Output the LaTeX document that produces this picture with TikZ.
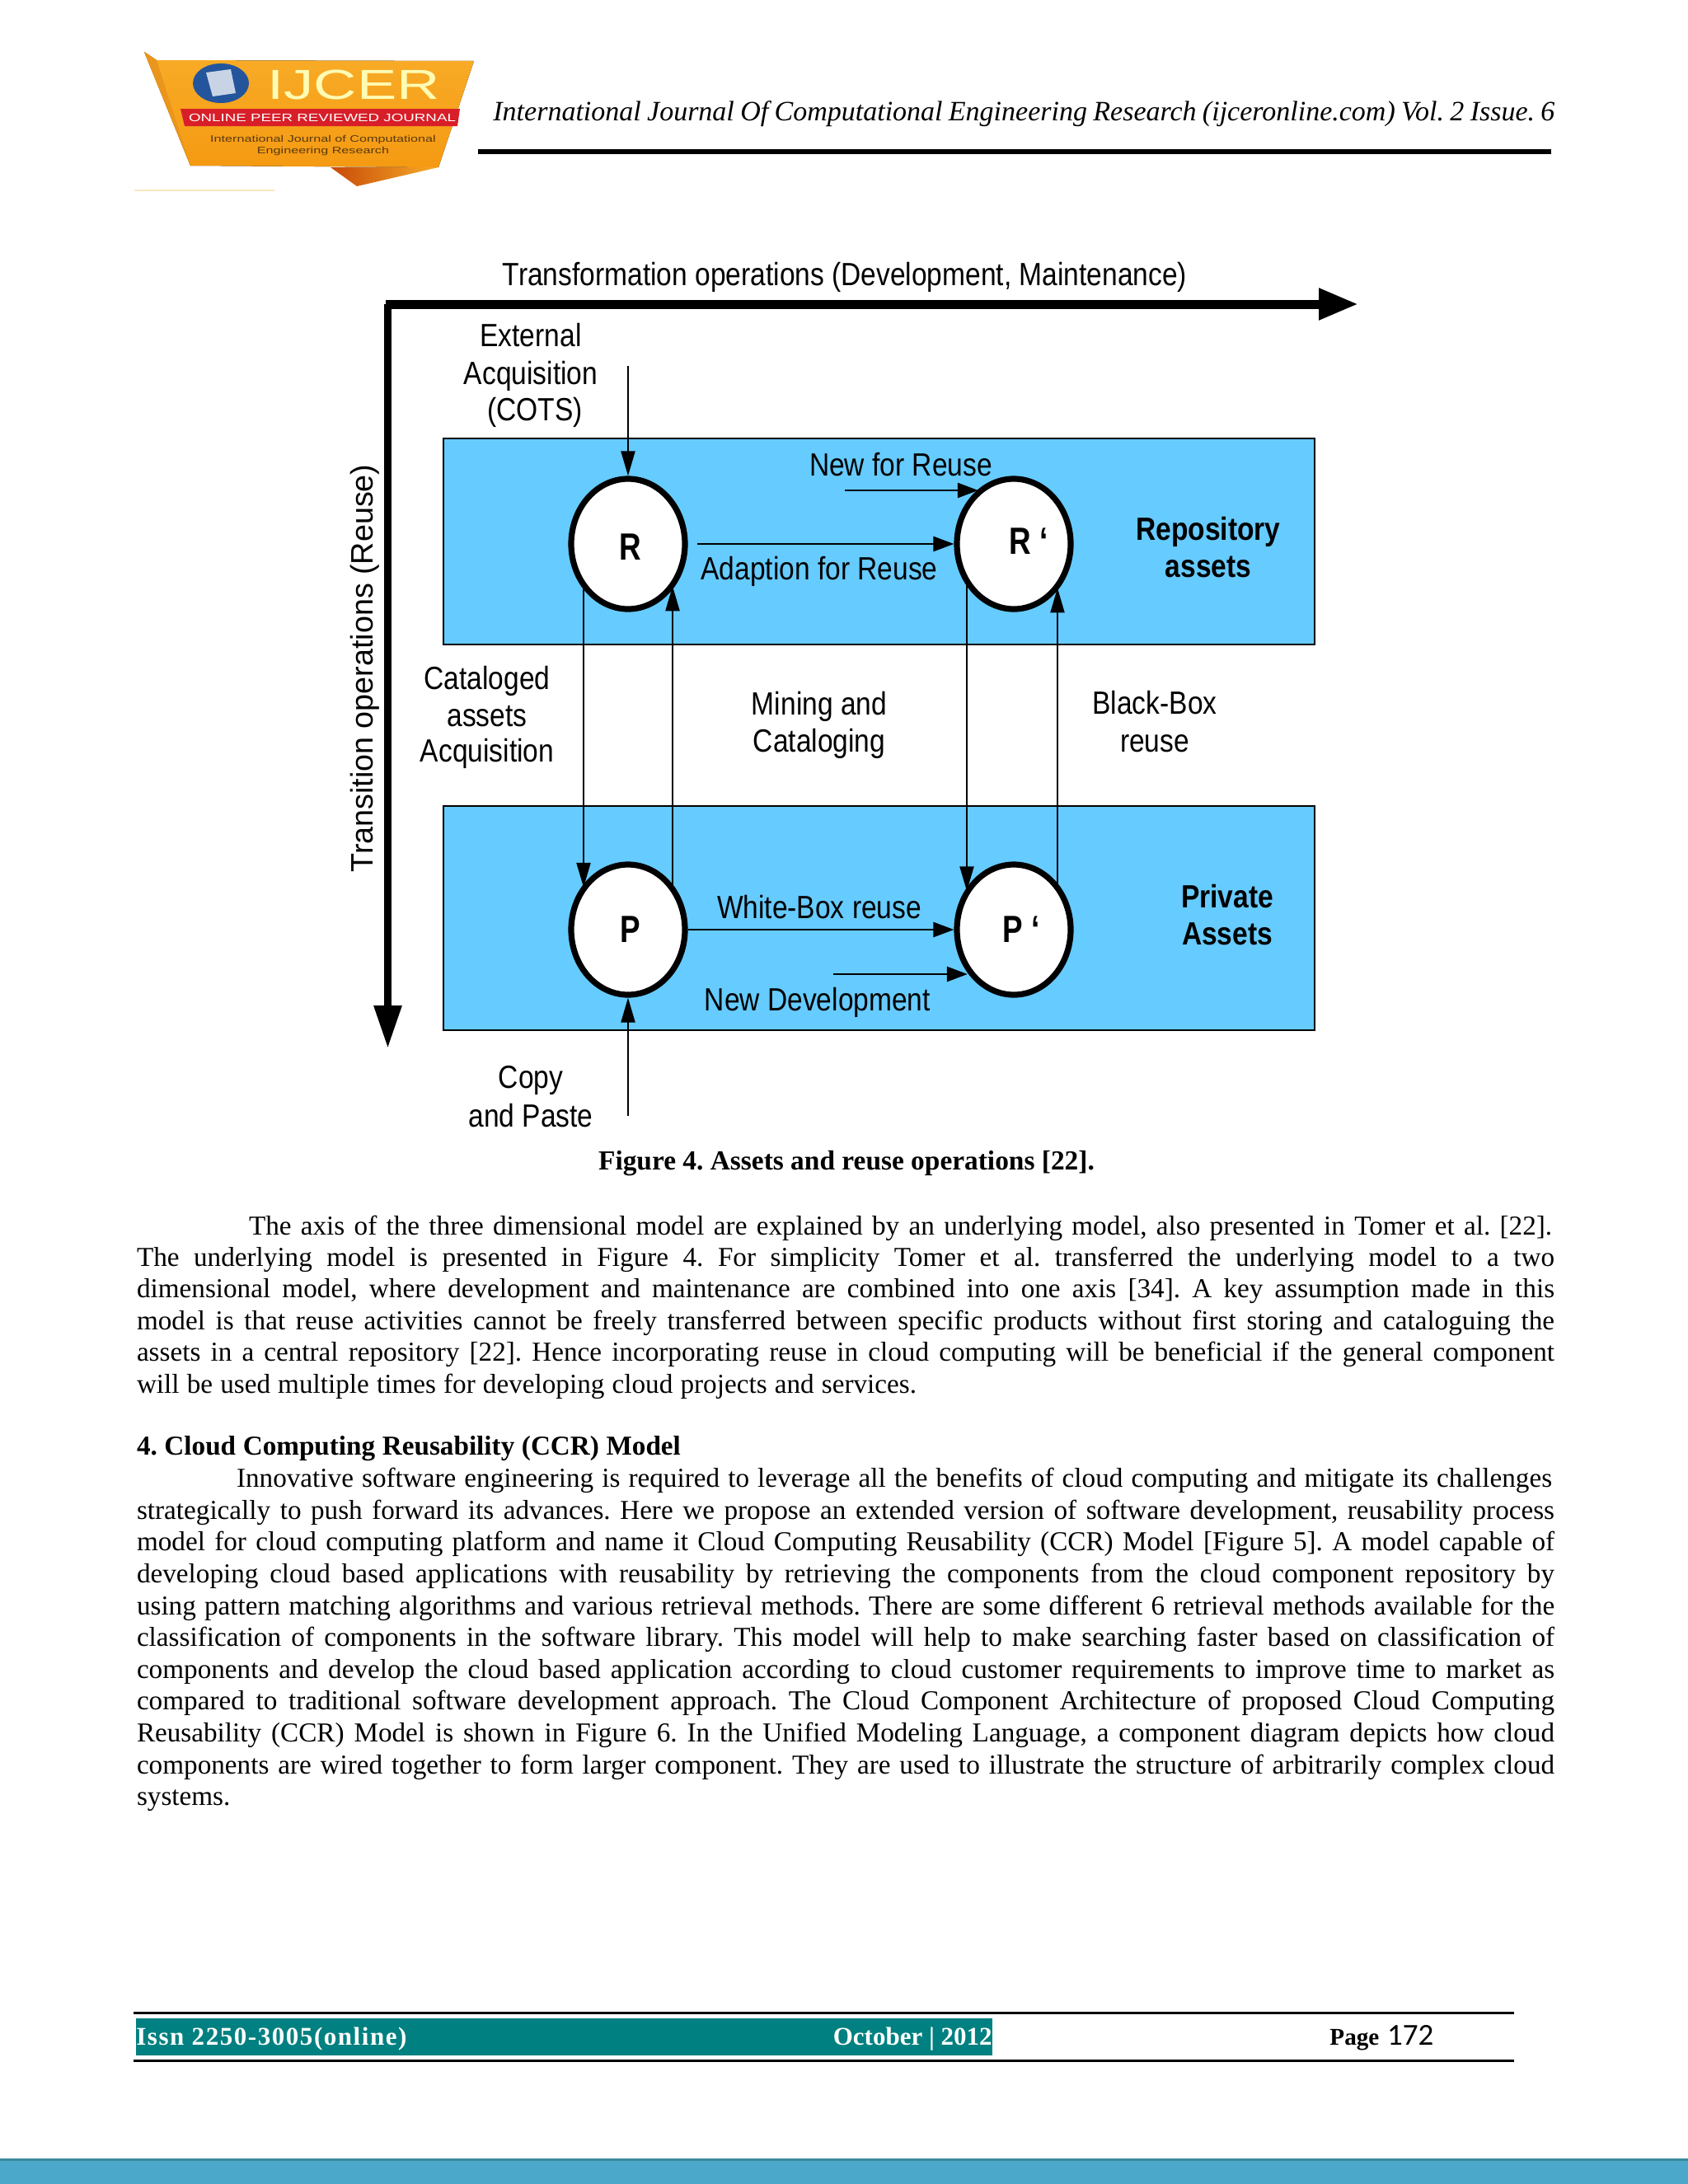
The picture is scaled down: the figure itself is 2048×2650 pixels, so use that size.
\documentclass[tikz,border=0pt]{standalone}
\usepackage{fontspec}
\usetikzlibrary{arrows.meta,shapes.geometric}
\setmainfont{Liberation Serif}
\newfontfamily\narrowsans[FakeStretch=0.86]{Liberation Sans}
\newfontfamily\lettersans[FakeStretch=0.8]{Liberation Sans}
\newfontfamily\plainsans{Liberation Sans}
\newfontfamily\widesans[FakeStretch=1.42]{Liberation Sans}
\newfontfamily\carl{Carlito}
\newfontfamily\issnfont[LetterSpace=5]{Liberation Serif}
\definecolor{panelblue}{HTML}{66CBFF}
\definecolor{tealbar}{HTML}{008080}
\definecolor{bandblue}{HTML}{4BA8CB}
\definecolor{bandedge}{HTML}{3A8A9C}
\definecolor{logoA}{HTML}{F8AC28}
\definecolor{logoB}{HTML}{F59A12}
\definecolor{logoRed}{HTML}{D81E28}
\definecolor{logoText}{HTML}{5A3A10}
\newcommand{\bodyln}[5]{\node[bodyline] (#1) at (#2,{#3+2}) {\makebox[\dimexpr #4pt/2\relax][s]{\frenchspacing #5}};}
\tikzset{
  x=0.5pt,y=-0.5pt,
  bodyline/.style={anchor=base west,inner sep=0pt,outer sep=0pt,font=\fontsize{16.6}{19}\selectfont},
  lab/.style={inner sep=0pt,align=center,font=\narrowsans\fontsize{19.5}{22}\selectfont},
  blab/.style={inner sep=0pt,align=center,font=\narrowsans\bfseries\fontsize{19.5}{22}\selectfont},
  letter/.style={inner sep=0pt,font=\lettersans\bfseries\fontsize{23}{24}\selectfont},
  panel/.style={draw=black,line width=1.2pt,fill=panelblue,minimum width=528.5pt,inner sep=0pt},
  state/.style={draw=black,fill=white,ellipse,line width=3.6pt,minimum width=69pt,minimum height=79pt,inner sep=0pt},
  vconn/.style={draw=black,line width=1.1pt,-{Triangle[length=15pt,width=8.5pt]},shorten >=0pt},
  hconn/.style={draw=black,line width=1.3pt,-{Triangle[length=12.5pt,width=9pt]}},
  axisx/.style={draw=black,line width=5.5pt,-{Triangle[length=24pt,width=18pt]}},
  axisy/.style={draw=black,line width=4.5pt,-{Triangle[length=26pt,width=16pt]}},
}
\begin{document}
\begin{tikzpicture}
\useasboundingbox (0,0) rectangle (2048,2650);
\fill[white] (0,0) rectangle (2048,2650);
% logo
\fill[top color=logoA,bottom color=logoB] (175,63) -- (190,73) -- (575,74) -- (532,203) -- (231,201) -- cycle;
\fill[logoB!80!brown] (175,63) -- (190,73) -- (231,201) -- cycle;
\shade[left color=logoB!60!red!80!black,right color=logoA] (401,203) -- (532,203) -- (433,226) -- cycle;
\fill[logoRed] (219,132) -- (558,132) -- (555,153) -- (224,153) -- cycle;
\fill[blue!60!cyan!70!black,opacity=.85] (268,101) ellipse [x radius=34,y radius=24];
\fill[white,opacity=.75] (250,88) -- (280,84) -- (286,113) -- (258,117) -- cycle;
\draw[logoA!30!white,line width=.6pt] (163,231) -- (333,231);
\node[inner sep=0pt,text=yellow!30!white] (logoname) at (429,103) {\widesans\fontsize{25.5}{26}\selectfont IJCER};
\node[inner sep=0pt,text=white] (logostrip) at (391,143) {\widesans\fontsize{6.6}{8}\selectfont ONLINE PEER REVIEWED JOURNAL};
\node[inner sep=0pt,text=logoText] (logoa) at (392,170) {\widesans\fontsize{5.7}{7}\selectfont International Journal of Computational};
\node[inner sep=0pt,text=logoText] (logob) at (392,184) {\widesans\fontsize{5.7}{7}\selectfont Engineering Research};
% header
\node[anchor=base west,inner sep=0pt] (head) at (598,146) {\makebox[644pt][s]{\itshape\frenchspacing\fontsize{17}{19}\selectfont International Journal Of Computational Engineering Research (ijceronline.com) Vol. 2 Issue. 6}};
\fill[black] (580,181) rectangle (1882,187);
% panels
\node[panel,anchor=north west,minimum height=125pt] (repo) at (537,531) {};
\node[panel,anchor=north west,minimum height=136pt] (priv) at (537,977) {};
% axes
\coordinate (org) at (470.5,369);
\coordinate (xend) at (1648,369);
\coordinate (yend) at (470.5,1272);
\draw[axisx] (org) ++(-2.5,0) -- (xend);
\draw[axisy] (org) -- (yend);
% states
\node[state] (R) at (762,660) {};
\node[state] (Rp) at (1230,660) {};
\node[state] (P) at (762,1128) {};
\node[state] (Pp) at (1230,1128) {};
\node[letter] (Rl) at (765,664) {R};
\node[letter] (Rpl) at (1248,657) {R ‘};
\node[letter] (Pl) at (765,1128) {P};
\node[letter] (Ppl) at (1239,1128) {P ‘};
% connectors
\coordinate (ext) at (762,444);
\coordinate (cp) at (762,1354);
\coordinate (ad) at (846,660);
\coordinate (nfr) at (1025,595);
\coordinate (nd) at (1011,1182);
\coordinate (xa) at (708,0);
\coordinate (xb) at (816,0);
\coordinate (xc) at (1173,0);
\coordinate (xd) at (1283,0);
\draw[vconn] (ext) -- (R.north);
\draw[vconn] (cp) -- (P.south);
\draw[vconn] (xa |- R.222) -- (xa |- P.138);
\draw[vconn] (xb |- P.42) -- (xb |- R.318);
\draw[vconn] (xc |- Rp.218) -- (xc |- Pp.142);
\draw[vconn] (xd |- Pp.44) -- (xd |- Rp.316);
\draw[hconn] (ad) -- (Rp.west);
\draw[hconn] (P.east) -- (Pp.west);
\draw[hconn] (nfr) -- (nfr -| Rp.123);
\draw[hconn] (nd) -- (nd -| Pp.223);
% labels
\node[lab] (ltrans) at (1025,336) {Transformation operations (Development, Maintenance)};
\node[lab,rotate=90,font=\plainsans\fontsize{18.85}{22}\selectfont] (ltrns) at (443,811) {Transition operations (Reuse)};
\node[lab] (lext1) at (644,407) {External};
\node[lab] (lext2) at (644,456) {Acquisition};
\node[lab] (lext3) at (649,500) {(COTS)};
\node[lab] (lnfr) at (1093,564) {New for Reuse};
\node[lab] (lad) at (994,693) {Adaption for Reuse};
\node[blab] (lrepo1) at (1466,645) {Repository};
\node[blab] (lrepo2) at (1466,688) {assets};
\node[lab] (lcat1) at (591,826) {Cataloged};
\node[lab] (lcat2) at (591,869) {assets};
\node[lab] (lcat3) at (591,914) {Acquisition};
\node[lab] (lmin1) at (994,857) {Mining and};
\node[lab] (lmin2) at (994,902) {Cataloging};
\node[lab] (lbb1) at (1401,853) {Black-Box};
\node[lab] (lbb2) at (1401,902) {reuse};
\node[lab] (lwb) at (994,1101) {White-Box reuse};
\node[lab] (lnd) at (992,1216) {New Development};
\node[blab] (lpr1) at (1489,1088) {Private};
\node[blab] (lpr2) at (1489,1133) {Assets};
\node[lab] (lcp1) at (644,1311) {Copy};
\node[lab] (lcp2) at (644,1354) {and Paste};
% caption
\node[inner sep=0pt,anchor=base] (cap) at (1027,1419) {\bfseries\frenchspacing\fontsize{16.7}{19}\selectfont Figure 4. Assets and reuse operations [22].};
% body
\bodyln{t1}{302}{1496}{1581}{The axis of the three dimensional model are explained by an underlying model, also presented in Tomer et al. [22].}
\bodyln{t2}{166}{1534}{1720}{The underlying model is presented in Figure 4. For simplicity Tomer et al. transferred the underlying model to a two}
\bodyln{t3}{166}{1572}{1720}{dimensional model, where development and maintenance are combined into one axis [34]. A key assumption made in this}
\bodyln{t4}{166}{1611}{1720}{model is that reuse activities cannot be freely transferred between specific products without first storing and cataloguing the}
\bodyln{t5}{166}{1649}{1720}{assets in a central repository [22]. Hence incorporating reuse in cloud computing will be beneficial if the general component}
\bodyln{t6}{166}{1688}{946}{will be used multiple times for developing cloud projects and services.}
\bodyln{h4}{166}{1763}{660}{\bfseries 4. Cloud Computing Reusability (CCR) Model}
\bodyln{u1}{287}{1802}{1596}{Innovative software engineering is required to leverage all the benefits of cloud computing and mitigate its challenges}
\bodyln{u2}{166}{1841}{1720}{strategically to push forward its advances. Here we propose an extended version of software development, reusability process}
\bodyln{u3}{166}{1879}{1720}{model for cloud computing platform and name it Cloud Computing Reusability (CCR) Model [Figure 5]. A model capable of}
\bodyln{u4}{166}{1918}{1720}{developing cloud based applications with reusability by retrieving the components from the cloud component repository by}
\bodyln{u5}{166}{1957}{1720}{using pattern matching algorithms and various retrieval methods. There are some different 6 retrieval methods available for the}
\bodyln{u6}{166}{1995}{1720}{classification of components in the software library. This model will help to make searching faster based on classification of}
\bodyln{u7}{166}{2034}{1720}{components and develop the cloud based application according to cloud customer requirements to improve time to market as}
\bodyln{u8}{166}{2072}{1720}{compared to traditional software development approach. The Cloud Component Architecture of proposed Cloud Computing}
\bodyln{u9}{166}{2111}{1720}{Reusability (CCR) Model is shown in Figure 6. In the Unified Modeling Language, a component diagram depicts how cloud}
\bodyln{u10}{166}{2150}{1720}{components are wired together to form larger component. They are used to illustrate the structure of arbitrarily complex cloud}
\bodyln{u11}{166}{2188}{114}{systems.}
% footer
\draw[black,line width=1.5pt] (162,2442) -- (1837,2442);
\draw[black,line width=1.5pt] (162,2500.5) -- (1837,2500.5);
\fill[tealbar] (165,2449) rectangle (1204,2494);
\node[anchor=base west,inner sep=0pt,text=white] (issn) at (165,2481) {\issnfont\bfseries\fontsize{15.5}{18}\selectfont Issn 2250-3005(online)};
\node[anchor=base east,inner sep=0pt,text=white] (oct) at (1204,2481) {\bfseries\fontsize{15.5}{18}\selectfont October | 2012};
\node[anchor=base west,inner sep=0pt] (pg) at (1613,2481) {\bfseries\fontsize{14.6}{18}\selectfont Page\,\,\carl\mdseries\fontsize{18.5}{18}\selectfont 172};
% bottom band
\fill[bandblue] (0,2619) rectangle (2048,2650);
\fill[bandedge] (0,2619) rectangle (2048,2622);
\end{tikzpicture}
\end{document}
